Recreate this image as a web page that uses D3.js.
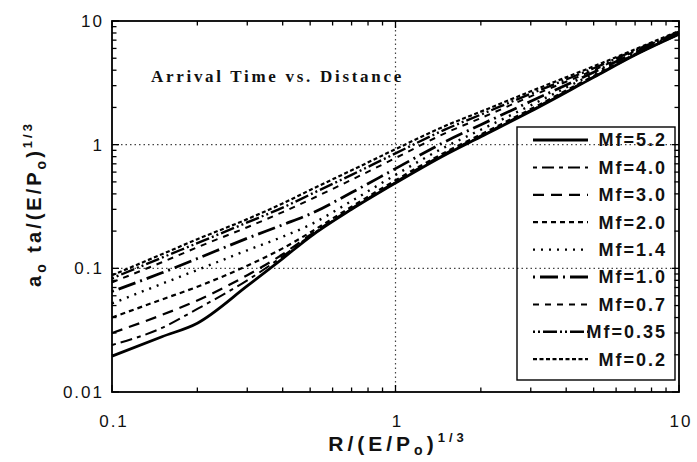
<!DOCTYPE html>
<html>
<head>
<meta charset="utf-8">
<script src="https://cdn.jsdelivr.net/npm/d3@7"></script>
<style>
  html, body { margin: 0; padding: 0; background: #fff; }
  svg { display: block; }
</style>
</head>
<body>
<div id="chart"></div>
<script>
// Arrival time vs. distance, log-log, one curve per mass fraction Mf
const xVals = [0.1, 0.15, 0.2, 0.3, 0.4, 0.5, 0.7, 1, 1.5, 2, 3, 5, 7, 10];

const mf52  = [0.0195, 0.028, 0.036, 0.072, 0.12,  0.18,  0.30,  0.49,  0.83, 1.16, 1.86, 3.5,  5.3,  7.8];
const mf40  = [0.024,  0.033, 0.047, 0.08,  0.125, 0.183, 0.302, 0.495, 0.84, 1.17, 1.88, 3.52, 5.32, 7.82];
const mf30  = [0.030,  0.042, 0.055, 0.088, 0.13,  0.186, 0.305, 0.50,  0.85, 1.18, 1.90, 3.55, 5.35, 7.85];
const mf20  = [0.040,  0.056, 0.071, 0.105, 0.145, 0.195, 0.315, 0.515, 0.87, 1.21, 1.94, 3.6,  5.4,  7.9];
const mf14  = [0.052,  0.075, 0.097, 0.14,  0.18,  0.225, 0.35,  0.57,  0.96, 1.32, 2.08, 3.75, 5.5,  8.0];
const mf10  = [0.065,  0.092, 0.12,  0.175, 0.225, 0.275, 0.41,  0.64,  1.06, 1.45, 2.24, 3.85, 5.55, 8.05];
const mf07  = [0.077,  0.112, 0.148, 0.215, 0.285, 0.36,  0.52,  0.78,  1.24, 1.64, 2.46, 4.0,  5.7,  8.1];
const mf035 = [0.083,  0.122, 0.16,  0.235, 0.31,  0.395, 0.57,  0.85,  1.33, 1.75, 2.58, 4.15, 5.8,  8.2];
const mf02  = [0.088,  0.13,  0.172, 0.25,  0.335, 0.43,  0.62,  0.92,  1.42, 1.85, 2.70, 4.3,  5.9,  8.3];

const seriesNames = ['Mf=5.2', 'Mf=4.0', 'Mf=3.0', 'Mf=2.0', 'Mf=1.4', 'Mf=1.0', 'Mf=0.7', 'Mf=0.35', 'Mf=0.2'];
const seriesData  = [mf52, mf40, mf30, mf20, mf14, mf10, mf07, mf035, mf02];

const xTickLabels = ['0.1', '1', '10'];
const yTickLabels = ['0.01', '0.1', '1', '10'];

// line styles, one per series
const STYLES = [
  { dash: null,               w: 2.8 },
  { dash: '4,5,12,5',         w: 2.0 },
  { dash: '11,7',             w: 2.2 },
  { dash: '5,4',              w: 2.2 },
  { dash: '2,6',              w: 2.4 },
  { dash: '2,5,18,5',         w: 2.8 },
  { dash: '6,6',              w: 2.0 },
  { dash: '2,3,2,3,14,3',     w: 2.4 },
  { dash: '4,2.5',            w: 2.2 },
];

const W = 697, H = 462;
const m = { left: 112, right: 679, top: 21, bottom: 392 };

const svg = d3.select('#chart').append('svg')
  .attr('width', W).attr('height', H);

const x = d3.scaleLog().domain([0.1, 10]).range([m.left, m.right]);
const y = d3.scaleLog().domain([0.01, 10]).range([m.bottom, m.top]);

const SANS = '"Liberation Sans", Arial, Helvetica, sans-serif';
const SERIF = '"Liberation Serif", "Times New Roman", serif';

// ── dotted grid at the inner decades ─────────────────────────────────────────
const grid = svg.append('g').attr('stroke', '#444').attr('stroke-width', 1.2)
  .attr('stroke-dasharray', '1.5,3');
[0.1, 1].forEach(v => grid.append('line')
  .attr('x1', m.left).attr('x2', m.right).attr('y1', y(v)).attr('y2', y(v)));
grid.append('line').attr('x1', x(1)).attr('x2', x(1)).attr('y1', m.top).attr('y2', m.bottom);

// ── curves ──────────────────────────────────────────────────────────────────
const line = d3.line()
  .x(d => x(d[0])).y(d => y(d[1]))
  .curve(d3.curveMonotoneX);

const curves = svg.append('g').attr('fill', 'none').attr('stroke', '#000');
seriesData.forEach((vals, i) => {
  const pts = xVals.map((xv, j) => [xv, vals[j]]);
  curves.append('path')
    .attr('d', line(pts))
    .attr('stroke-width', STYLES[i].w)
    .attr('stroke-dasharray', STYLES[i].dash);
});

// ── frame with inward ticks ─────────────────────────────────────────────────
const frame = svg.append('g').attr('stroke', '#000');
frame.append('rect')
  .attr('x', m.left).attr('y', m.top)
  .attr('width', m.right - m.left).attr('height', m.bottom - m.top)
  .attr('fill', 'none').attr('stroke-width', 1.8);

const isMajor = v => Math.abs(Math.log10(v) - Math.round(Math.log10(v))) < 1e-9;
x.ticks().forEach(v => {
  const len = isMajor(v) ? 7 : 4.5;
  frame.append('line').attr('x1', x(v)).attr('x2', x(v))
    .attr('y1', m.bottom).attr('y2', m.bottom - len).attr('stroke-width', 1.3);
  frame.append('line').attr('x1', x(v)).attr('x2', x(v))
    .attr('y1', m.top).attr('y2', m.top + len).attr('stroke-width', 1.3);
});
y.ticks().forEach(v => {
  const len = isMajor(v) ? 7 : 4.5;
  frame.append('line').attr('y1', y(v)).attr('y2', y(v))
    .attr('x1', m.left).attr('x2', m.left + len).attr('stroke-width', 1.3);
  frame.append('line').attr('y1', y(v)).attr('y2', y(v))
    .attr('x1', m.right).attr('x2', m.right - len).attr('stroke-width', 1.3);
});

// ── tick labels ─────────────────────────────────────────────────────────────
const tickFont = g => g.attr('font-family', SANS).attr('font-size', 17)
  .attr('letter-spacing', 2).attr('fill', '#111');

const yl = svg.append('g').call(tickFont).attr('text-anchor', 'end');
yTickLabels.forEach(t => yl.append('text')
  .attr('x', 104).attr('y', y(+t)).attr('dy', '0.36em').text(t));

const xl = svg.append('g').call(tickFont).attr('text-anchor', 'middle');
xTickLabels.forEach(t => xl.append('text')
  .attr('x', x(+t) + 2).attr('y', 427).text(t));

// ── axis titles ─────────────────────────────────────────────────────────────
const xt = svg.append('text')
  .attr('x', 398).attr('y', 451)
  .attr('text-anchor', 'middle')
  .attr('font-family', SANS).attr('font-weight', 'bold').attr('font-size', 21)
  .attr('letter-spacing', 4).attr('fill', '#111');
xt.append('tspan').text('R/(E/P');
xt.append('tspan').attr('font-size', 14).attr('dy', 4).text('o');
xt.append('tspan').attr('dy', -4).text(')');
xt.append('tspan').attr('font-size', 13).attr('dy', -9).text('1/3');

const yt = svg.append('text')
  .attr('transform', 'translate(41,204) rotate(-90)')
  .attr('text-anchor', 'middle')
  .attr('font-family', SANS).attr('font-weight', 'bold').attr('font-size', 20)
  .attr('letter-spacing', 3).attr('fill', '#111');
yt.append('tspan').text('a');
yt.append('tspan').attr('font-size', 14).attr('dy', 5).text('o');
yt.append('tspan').attr('dy', -5).text(' ta/(E/P');
yt.append('tspan').attr('font-size', 14).attr('dy', 5).text('o');
yt.append('tspan').attr('dy', -5).text(')');
yt.append('tspan').attr('font-size', 13).attr('dy', -9).text('1/3');

// ── title inside plot ───────────────────────────────────────────────────────
svg.append('text')
  .attr('x', 151).attr('y', 82)
  .attr('font-family', SERIF).attr('font-weight', 'bold').attr('font-size', 17)
  .attr('letter-spacing', 2.7).attr('fill', '#111')
  .text('Arrival Time vs. Distance');

// ── legend ──────────────────────────────────────────────────────────────────
const leg = svg.append('g');
leg.append('rect')
  .attr('x', 517).attr('y', 127).attr('width', 158).attr('height', 253)
  .attr('fill', 'none').attr('stroke', '#000').attr('stroke-width', 1.4);

seriesNames.forEach((name, i) => {
  const ly = 140 + i * 27.4;
  leg.append('line')
    .attr('x1', 533).attr('x2', 588).attr('y1', ly).attr('y2', ly)
    .attr('stroke', '#000')
    .attr('stroke-width', STYLES[i].w)
    .attr('stroke-dasharray', STYLES[i].dash);
  leg.append('text')
    .attr('x', 667).attr('y', ly).attr('dy', '0.36em')
    .attr('text-anchor', 'end')
    .attr('font-family', SANS).attr('font-weight', 'bold').attr('font-size', 18)
    .attr('letter-spacing', 2).attr('fill', '#111')
    .text(name);
});
</script>
</body>
</html>
